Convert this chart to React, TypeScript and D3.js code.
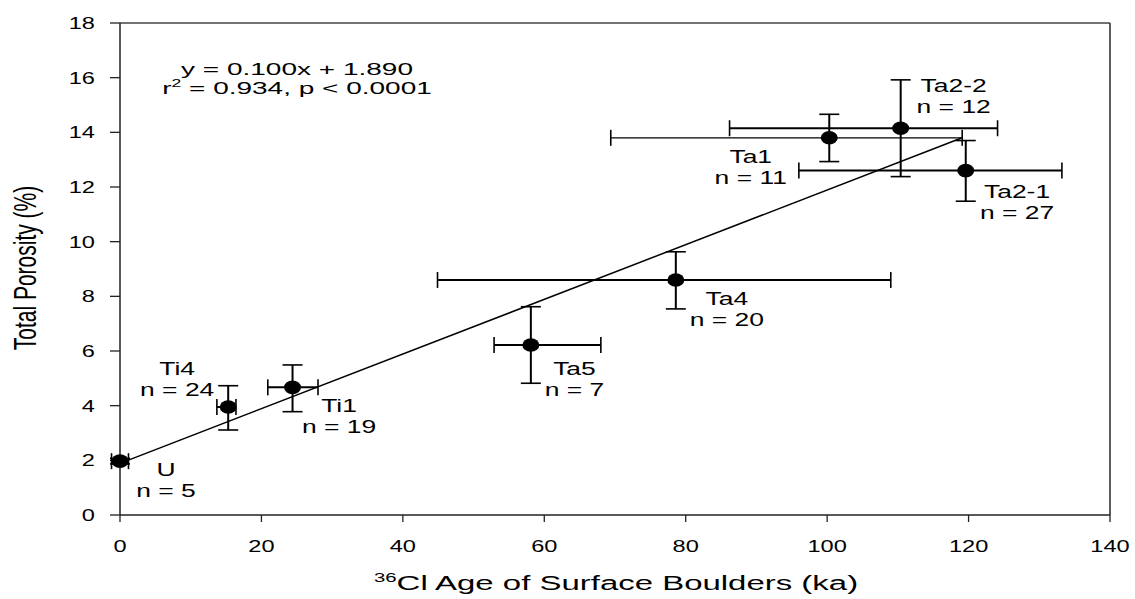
import React from "react";
import * as d3 from "d3";

const sites = ["U", "Ti4", "Ti1", "Ta5", "Ta4", "Ta1", "Ta2-2", "Ta2-1"];
const counts = [5, 24, 19, 7, 20, 11, 12, 27];
const ages = [0, 15.3, 24.4, 58.1, 78.6, 100.3, 110.4, 119.6];
const ageLo = [-1.2, 13.7, 20.9, 52.9, 44.9, 69.4, 86.2, 96.0];
const ageHi = [1.2, 16.4, 28.0, 68.0, 109.0, 119.1, 124.1, 133.2];
const porosity = [1.97, 3.95, 4.67, 6.22, 8.6, 13.8, 14.15, 12.6];
const porLo = [1.87, 3.11, 3.78, 4.82, 7.54, 12.93, 12.38, 11.48];
const porHi = [2.07, 4.73, 5.49, 7.62, 9.63, 14.66, 15.92, 13.7];
const xTicks = [0, 20, 40, 60, 80, 100, 120, 140];
const yTicks = [0, 2, 4, 6, 8, 10, 12, 14, 16, 18];
const slope = 0.1;
const intercept = 1.89;
const fitRange = [0, 119];

// label offsets (pixels) relative to each point
const labelDx = [46, -51, 46.5, 43.6, 51, -78.5, 53, 51.3];
const labelDy = [15, -32, 25, 30, 25, 25.6, -36.6, 27];

const W = 1135;
const H = 599;
const FONT = "'Liberation Sans', Arial, sans-serif";
const SX = 1.43;

function T({ x, y, children, size = 18, anchor = "middle", sx = SX }: any) {
  return (
    <text
      transform={`translate(${x},${y}) scale(${sx},1)`}
      textAnchor={anchor}
      fontSize={size}
      fontFamily={FONT}
      fill="#000"
    >
      {children}
    </text>
  );
}

export default function App() {
  const x = d3.scaleLinear().domain([0, 140]).range([120, 1110]);
  const y = d3.scaleLinear().domain([0, 18]).range([515, 23]);
  const line = d3
    .line<number>()
    .x((d) => x(d))
    .y((d) => y(slope * d + intercept));

  return (
    <svg
      width={W}
      height={H}
      style={{ position: "absolute", left: 0, top: 0, background: "#fff" }}
    >
      <rect x={0} y={0} width={W} height={H} fill="#fff" />
      {/* frame */}
      <line x1={x(0)} x2={x(140)} y1={y(18)} y2={y(18)} stroke="#444" strokeWidth={1.4} />
      <line x1={x(140)} x2={x(140)} y1={y(18)} y2={y(0)} stroke="#333" strokeWidth={1.6} />
      <line x1={x(0)} x2={x(140)} y1={y(0)} y2={y(0)} stroke="#222" strokeWidth={1.5} />
      <line x1={x(0)} x2={x(0)} y1={y(18)} y2={y(0)} stroke="#222" strokeWidth={1.5} />
      {yTicks.map((t) => (
        <g key={"y" + t}>
          <line x1={x(0) - 10} x2={x(0)} y1={y(t)} y2={y(t)} stroke="#222" strokeWidth={1.3} />
          <T x={x(0) - 25} y={y(t) + 6} size={16.5} anchor="end">
            {t}
          </T>
        </g>
      ))}
      {xTicks.map((t) => (
        <g key={"x" + t}>
          <line x1={x(t)} x2={x(t)} y1={y(0)} y2={y(0) + 7} stroke="#222" strokeWidth={1.3} />
          <T x={x(t)} y={552} size={16.5}>
            {t}
          </T>
        </g>
      ))}
      {/* axis titles */}
      <text
        transform={`translate(616,590) scale(1.57,1)`}
        textAnchor="middle"
        fontSize={21}
        fontFamily={FONT}
      >
        <tspan fontSize={13} dy={-8}>36</tspan>
        <tspan dy={8}>Cl Age of Surface Boulders (ka)</tspan>
      </text>
      <text
        transform={`translate(36,268) scale(1.45,1) rotate(-90)`}
        textAnchor="middle"
        fontSize={21}
        fontFamily={FONT}
      >
        Total Porosity (%)
      </text>
      {/* regression line */}
      <path d={line(fitRange) || ""} fill="none" stroke="#000" strokeWidth={1.5} />
      {/* equation */}
      <T x={297} y={75} size={16} sx={1.75}>
        y = 0.100x + 1.890
      </T>
      <text
        transform={`translate(297,94) scale(1.75,1)`}
        textAnchor="middle"
        fontSize={16}
        fontFamily={FONT}
      >
        r<tspan fontSize={10} dy={-7}>2</tspan>
        <tspan dy={7}> = 0.934, p &lt; 0.0001</tspan>
      </text>
      {/* error bars and points */}
      {sites.map((s, i) => {
        const cx = x(ages[i]);
        const cy = y(porosity[i]);
        const sw = s === "Ta1" ? 1.3 : 2;
        return (
          <g key={s}>
            <line x1={x(ageLo[i])} x2={x(ageHi[i])} y1={cy} y2={cy} stroke="#000" strokeWidth={sw} />
            <line x1={x(ageLo[i])} x2={x(ageLo[i])} y1={cy - 8} y2={cy + 8} stroke="#000" strokeWidth={1.6} />
            <line x1={x(ageHi[i])} x2={x(ageHi[i])} y1={cy - 8} y2={cy + 8} stroke="#000" strokeWidth={1.6} />
            <line x1={cx} x2={cx} y1={y(porLo[i])} y2={y(porHi[i])} stroke="#000" strokeWidth={2} />
            <line x1={cx - 10} x2={cx + 10} y1={y(porLo[i])} y2={y(porLo[i])} stroke="#000" strokeWidth={1.6} />
            <line x1={cx - 10} x2={cx + 10} y1={y(porHi[i])} y2={y(porHi[i])} stroke="#000" strokeWidth={1.6} />
            <ellipse cx={cx} cy={cy} rx={8.5} ry={6.8} fill="#000" />
            <T x={cx + labelDx[i]} y={cy + labelDy[i]} size={18.5}>
              {s}
            </T>
            <T x={cx + labelDx[i]} y={cy + labelDy[i] + 21} size={18.5}>
              {`n = ${counts[i]}`}
            </T>
          </g>
        );
      })}
    </svg>
  );
}
